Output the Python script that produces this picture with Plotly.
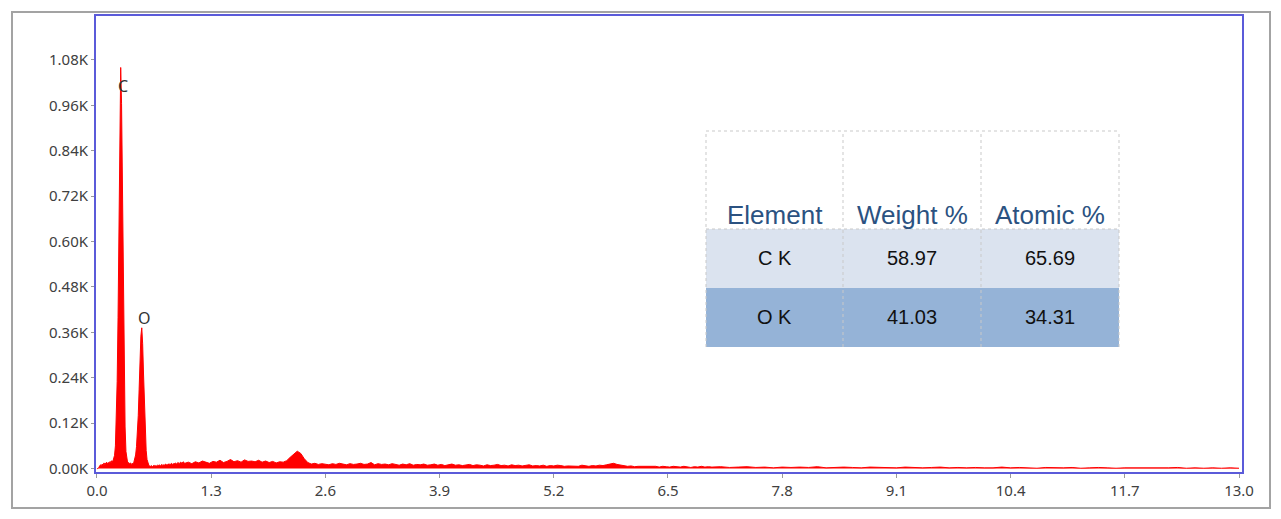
import numpy as np
import plotly.graph_objects as go

# ---------------- data ----------------
# segment A: 0.00 - 0.99 keV, 0.01 keV channels
seg_a_start, seg_a_step = 0.00, 0.01
seg_a_counts = [
    0, 0, 3, 6, 10, 8, 12, 9, 15, 11,
    13, 17, 12, 16, 14, 19, 15, 21, 18, 24,
    35, 60, 120, 230, 400, 640, 840, 1060, 965, 720,
    460, 250, 110, 45, 22, 14, 16, 13, 15, 11,
    14, 12, 17, 24, 36, 58, 92, 140, 210, 290,
    350, 372, 330, 250, 165, 95, 48, 24, 13, 9,
    7, 6, 8, 5, 7, 9, 6, 8, 7, 9,
    8, 10, 7, 9, 11, 8, 10, 9, 12, 10,
    11, 9, 13, 10, 12, 14, 11, 13, 12, 15,
    13, 12, 16, 14, 13, 17, 15, 14, 18, 16,
]
# segment B: 1.00 - 6.96 keV, 0.04 keV channels
seg_b_start, seg_b_step = 1.00, 0.04
seg_b_counts = [
    14, 17, 13, 18, 15, 20, 16, 14, 19, 17,
    22, 16, 19, 24, 18, 21, 17, 23, 19, 20,
    18, 22, 17, 20, 16, 19, 15, 18, 17, 21,
    30, 38, 46, 40, 26, 16, 12, 14, 11, 13,
    12, 10, 13, 11, 14, 12, 10, 13, 11, 12,
    14, 11, 12, 16, 10, 13, 11, 12, 10, 13,
    11, 9, 12, 10, 13, 9, 11, 10, 12, 9,
    10, 12, 9, 11, 8, 10, 12, 9, 10, 8,
    9, 11, 8, 10, 9, 7, 10, 8, 9, 11,
    8, 9, 7, 10, 8, 9, 7, 8, 10, 7,
    8, 7, 9, 6, 8, 7, 9, 8, 6, 7,
    7, 8, 6, 9, 7, 6, 8, 7, 9, 8,
    10, 12, 14, 11, 9, 7, 6, 7, 5, 6,
    6, 5, 7, 5, 6, 4, 6, 5, 4, 6,
    5, 4, 6, 5, 3, 5, 4, 6, 4, 5,
]
# segment C: 7.0 - 13.0 keV, 0.1 keV channels
seg_c_start, seg_c_step = 7.0, 0.1
seg_c_counts = [
    4, 5, 3, 4, 5, 3, 4, 2, 4, 3,
    4, 3, 5, 2, 3, 4, 3, 2, 4, 3,
    3, 2, 4, 3, 2, 3, 4, 2, 3, 2,
    3, 2, 2, 4, 2, 3, 2, 1, 3, 2,
    2, 3, 1, 2, 3, 2, 1, 2, 2, 1,
    2, 1, 2, 3, 1, 2, 1, 2, 1, 2,
    1,
]

y_tick_vals = [0, 120, 240, 360, 480, 600, 720, 840, 960, 1080]
y_tick_text = ["0.00K", "0.12K", "0.24K", "0.36K", "0.48K", "0.60K",
               "0.72K", "0.84K", "0.96K", "1.08K"]
x_tick_vals = [0.0, 1.3, 2.6, 3.9, 5.2, 6.5, 7.8, 9.1, 10.4, 11.7, 13.0]

peak_labels = ["C", "O"]
peak_energy = [0.296, 0.546]
peak_label_y = [1010, 398]

table_header = ["Element", "Weight %", "Atomic %"]
table_elements = ["C K", "O K"]
table_weight = ["58.97", "41.03"]
table_atomic = ["65.69", "34.31"]

# ---------------- build ----------------
def channels(start, step, counts):
    return [round(start + i * step, 4) for i in range(len(counts))]

energy = (channels(seg_a_start, seg_a_step, seg_a_counts)
          + channels(seg_b_start, seg_b_step, seg_b_counts)
          + channels(seg_c_start, seg_c_step, seg_c_counts))
counts = seg_a_counts + seg_b_counts + seg_c_counts

W, H = 1281, 519
L, R, T, B = 96, 1242, 16, 472

def px(x):
    return (x - L) / (R - L)

def py(y):
    return (B - y) / (B - T)

fig = go.Figure()
fig.add_trace(go.Scatter(
    x=energy, y=counts, mode="lines",
    line=dict(color="#ff0000", width=1),
    fill="tozeroy", fillcolor="#ff0000",
    hoverinfo="skip", showlegend=False,
))

annotations = []
for lab, ex, ey in zip(peak_labels, peak_energy, peak_label_y):
    annotations.append(dict(x=ex, y=ey, xref="x", yref="y", text=lab,
                            showarrow=False, xanchor="center", yanchor="middle",
                            font=dict(family="Noto Sans", size=16, color="#333333")))

shapes = []
# outer gray frame
shapes.append(dict(type="rect", xref="paper", yref="paper",
                   x0=px(12), x1=px(1270), y0=py(508), y1=py(12),
                   line=dict(color="#a3a3a3", width=2), layer="below"))

# table geometry (pixels)
col_edges = [706, 843, 981, 1119]
row_edges = [131, 229, 288, 347]
row_fills = ["#dbe3ef", "#95b3d7"]
header_color = "#2b5281"

for r in range(len(table_elements)):
    shapes.append(dict(type="rect", xref="paper", yref="paper",
                       x0=px(col_edges[0]), x1=px(col_edges[-1]),
                       y0=py(row_edges[r + 2]), y1=py(row_edges[r + 1]),
                       fillcolor=row_fills[r], line=dict(width=0), layer="above"))
# dotted borders
dot = dict(color="#c9c9c9", width=1, dash="dot")
for cx in col_edges:
    shapes.append(dict(type="line", xref="paper", yref="paper",
                       x0=px(cx), x1=px(cx), y0=py(row_edges[-1]), y1=py(row_edges[0]),
                       line=dot, layer="above"))
for ry in row_edges[:2]:
    shapes.append(dict(type="line", xref="paper", yref="paper",
                       x0=px(col_edges[0]), x1=px(col_edges[-1]), y0=py(ry), y1=py(ry),
                       line=dot, layer="above"))

for c, txt in enumerate(table_header):
    cx = (col_edges[c] + col_edges[c + 1]) / 2
    annotations.append(dict(x=px(cx), y=py(215), xref="paper", yref="paper",
                            text=txt, showarrow=False, xanchor="center", yanchor="middle",
                            font=dict(family="Liberation Sans", size=26, color=header_color)))
rows = list(zip(table_elements, table_weight, table_atomic))
row_centers = [258, 317]
for r, row in enumerate(rows):
    for c, txt in enumerate(row):
        cx = (col_edges[c] + col_edges[c + 1]) / 2
        annotations.append(dict(x=px(cx), y=py(row_centers[r]), xref="paper", yref="paper",
                                text=txt, showarrow=False, xanchor="center", yanchor="middle",
                                font=dict(family="Liberation Sans", size=20, color="#111111")))

frame_color = "#5b5bd9"
tick_font = dict(family="Noto Sans", size=15, color="#404040")

fig.update_layout(
    width=W, height=H,
    margin=dict(l=L, r=W - R, t=T, b=H - B, pad=0),
    paper_bgcolor="white", plot_bgcolor="white",
    showlegend=False,
    shapes=shapes, annotations=annotations,
    xaxis=dict(range=[-0.011, 13.034], tickmode="array", tickvals=x_tick_vals,
               tickformat=".1f", showgrid=False, zeroline=False,
               showline=True, linecolor=frame_color, linewidth=2, mirror=True,
               ticks="outside", ticklen=4, tickcolor="#9a9a9a", tickfont=tick_font),
    yaxis=dict(range=[-9, 1196], tickmode="array", tickvals=y_tick_vals,
               ticktext=y_tick_text, showgrid=False, zeroline=False,
               showline=True, linecolor=frame_color, linewidth=2, mirror=True,
               ticks="outside", ticklen=3, tickcolor="#9a9a9a", tickfont=tick_font),
)

fig.write_html("out.html", config={"displayModeBar": False},
               post_script="document.body.style.margin='0';document.body.style.overflow='hidden';")
